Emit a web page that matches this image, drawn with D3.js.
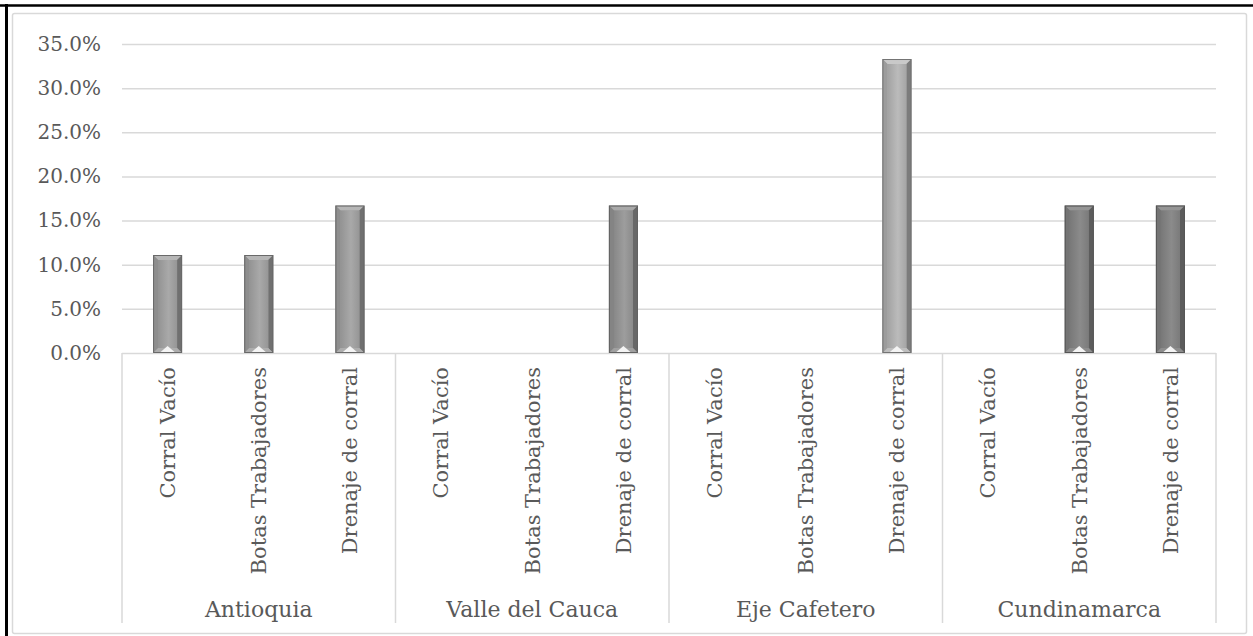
<!DOCTYPE html>
<meta charset="utf-8">
<style>
  body { margin: 0; background: #fff; }
  text { font-family: "DejaVu Serif", serif; fill: #595959; }
</style>
<svg width="1253" height="636"></svg>
<script src="https://d3js.org/d3.v7.min.js"></script>
<script>

var svg = d3.select("svg"),
    width = +svg.attr("width"),
    height = +svg.attr("height");

// data
var regions = ["Antioquia", "Valle del Cauca", "Eje Cafetero", "Cundinamarca"];
var measures = ["Corral Vacío", "Botas Trabajadores", "Drenaje de corral"];
var antioquia = [0.111, 0.111, 0.167];
var valle = [0, 0, 0.167];
var ejeCafetero = [0, 0, 0.333];
var cundinamarca = [0, 0.167, 0.167];
var yTicks = [0, 0.05, 0.10, 0.15, 0.20, 0.25, 0.30, 0.35];
var regionColors = ["#9b9b9b", "#909090", "#ababab", "#7f7f7f"];

var rows = [antioquia, valle, ejeCafetero, cundinamarca];
var data = [];
regions.forEach(function(r, i) {
  measures.forEach(function(m, j) {
    data.push({ region: r, measure: m, value: rows[i][j], color: regionColors[i] });
  });
});

// frame
svg.append("rect")
    .attr("x", 12.5).attr("y", 13.5)
    .attr("width", 1234).attr("height", 620)
    .attr("rx", 2)
    .attr("fill", "#fff")
    .attr("stroke", "#d9d9d9")
    .attr("stroke-width", 1.5);

svg.append("line")
    .attr("x1", 0).attr("x2", width)
    .attr("y1", 5.5).attr("y2", 5.5)
    .attr("stroke", "#000").attr("stroke-width", 2.5);
svg.append("line")
    .attr("x1", 6.5).attr("x2", 6.5)
    .attr("y1", 4).attr("y2", height)
    .attr("stroke", "#000").attr("stroke-width", 3);

var plotLeft = 122, plotRight = 1216, plotTop = 44, plotBase = 353;

var x0 = d3.scaleBand().domain(regions).range([plotLeft, plotRight]);
var x1 = d3.scaleBand().domain(measures).range([0, x0.bandwidth()]);
var y = d3.scaleLinear().domain([0, 0.35]).range([plotBase, plotTop]);

// gridlines
svg.append("g")
    .attr("transform", "translate(" + plotLeft + ",0)")
    .call(d3.axisRight(y).tickValues(yTicks).tickSize(plotRight - plotLeft).tickFormat(""))
    .call(function(g) { g.select(".domain").remove(); })
    .selectAll("line")
    .attr("stroke", "#d9d9d9")
    .attr("stroke-width", 1.5);

// y labels
var yAxis = svg.append("g")
    .attr("transform", "translate(101,0)")
    .call(d3.axisLeft(y).tickValues(yTicks).tickSize(0).tickPadding(0).tickFormat(d3.format(".1%")));
yAxis.select(".domain").remove();
yAxis.selectAll("text")
    .attr("font-family", "DejaVu Serif")
    .attr("font-size", 20)
    .attr("fill", "#595959");

// category axis separators
var seps = regions.map(function(r) { return x0(r); }).concat([plotRight]);
svg.append("g").selectAll("line")
  .data(seps)
  .enter().append("line")
    .attr("x1", function(d) { return d; })
    .attr("x2", function(d) { return d; })
    .attr("y1", plotBase)
    .attr("y2", 623)
    .attr("stroke", "#d9d9d9")
    .attr("stroke-width", 1.5);

// bars with bevel
var defs = svg.append("defs");
var bw = 29, bev = 5;

data.forEach(function(d, i) {
  if (d.value <= 0) return;
  var cx = x0(d.region) + x1(d.measure) + x1.bandwidth() / 2;
  var xa = cx - bw / 2, xb = cx + bw / 2, ya = y(d.value), yb = plotBase;
  var c = d3.color(d.color);
  var g = svg.append("g");

  var gid = "face" + i;
  var grad = defs.append("linearGradient").attr("id", gid)
      .attr("x1", "0%").attr("x2", "100%").attr("y1", "0%").attr("y2", "0%");
  grad.append("stop").attr("offset", "0%").attr("stop-color", c.darker(0.15));
  grad.append("stop").attr("offset", "55%").attr("stop-color", c.brighter(0.25));
  grad.append("stop").attr("offset", "100%").attr("stop-color", c.darker(0.1));

  g.append("rect")
      .attr("x", xa).attr("y", ya)
      .attr("width", bw).attr("height", yb - ya)
      .attr("fill", c);

  var poly = function(pts, fill) {
    g.append("polygon")
        .attr("points", pts.map(function(p) { return p.join(","); }).join(" "))
        .attr("fill", fill);
  };
  poly([[xa, ya], [xb, ya], [xb - bev, ya + bev], [xa + bev, ya + bev]], c.brighter(0.45));
  poly([[xa, ya], [xa + bev, ya + bev], [xa + bev, yb - bev], [xa, yb]], c.darker(0.25));
  poly([[xb, ya], [xb, yb], [xb - bev, yb - bev], [xb - bev, ya + bev]], c.darker(0.9));
  poly([[xa, yb], [xa + bev, yb - bev], [xb - bev, yb - bev], [xb, yb]], c.brighter(0.3));

  g.append("rect")
      .attr("x", xa + bev).attr("y", ya + bev)
      .attr("width", bw - 2 * bev).attr("height", Math.max(0, yb - ya - 2 * bev))
      .attr("fill", "url(#" + gid + ")");

  poly([[cx - 7, yb - 1], [cx, yb - bev - 2], [cx + 7, yb - 1]], "#f4f4f4");

  g.append("rect")
      .attr("x", xa + 0.5).attr("y", ya + 0.5)
      .attr("width", bw - 1).attr("height", yb - ya - 1)
      .attr("fill", "none")
      .attr("stroke", c.darker(1.1))
      .attr("stroke-width", 1);
});

// measure labels (rotated)
svg.append("g").selectAll("text")
  .data(data)
  .enter().append("text")
    .attr("transform", function(d) {
      var cx = x0(d.region) + x1(d.measure) + x1.bandwidth() / 2;
      return "translate(" + cx + ",367) rotate(-90)";
    })
    .attr("dy", "0.35em")
    .attr("text-anchor", "end")
    .attr("font-size", 21)
    .text(function(d) { return d.measure; });

// region labels
svg.append("g").selectAll("text")
  .data(regions)
  .enter().append("text")
    .attr("x", function(d) { return x0(d) + x0.bandwidth() / 2; })
    .attr("y", 617)
    .attr("text-anchor", "middle")
    .attr("font-size", 22)
    .text(function(d) { return d; });

</script>
